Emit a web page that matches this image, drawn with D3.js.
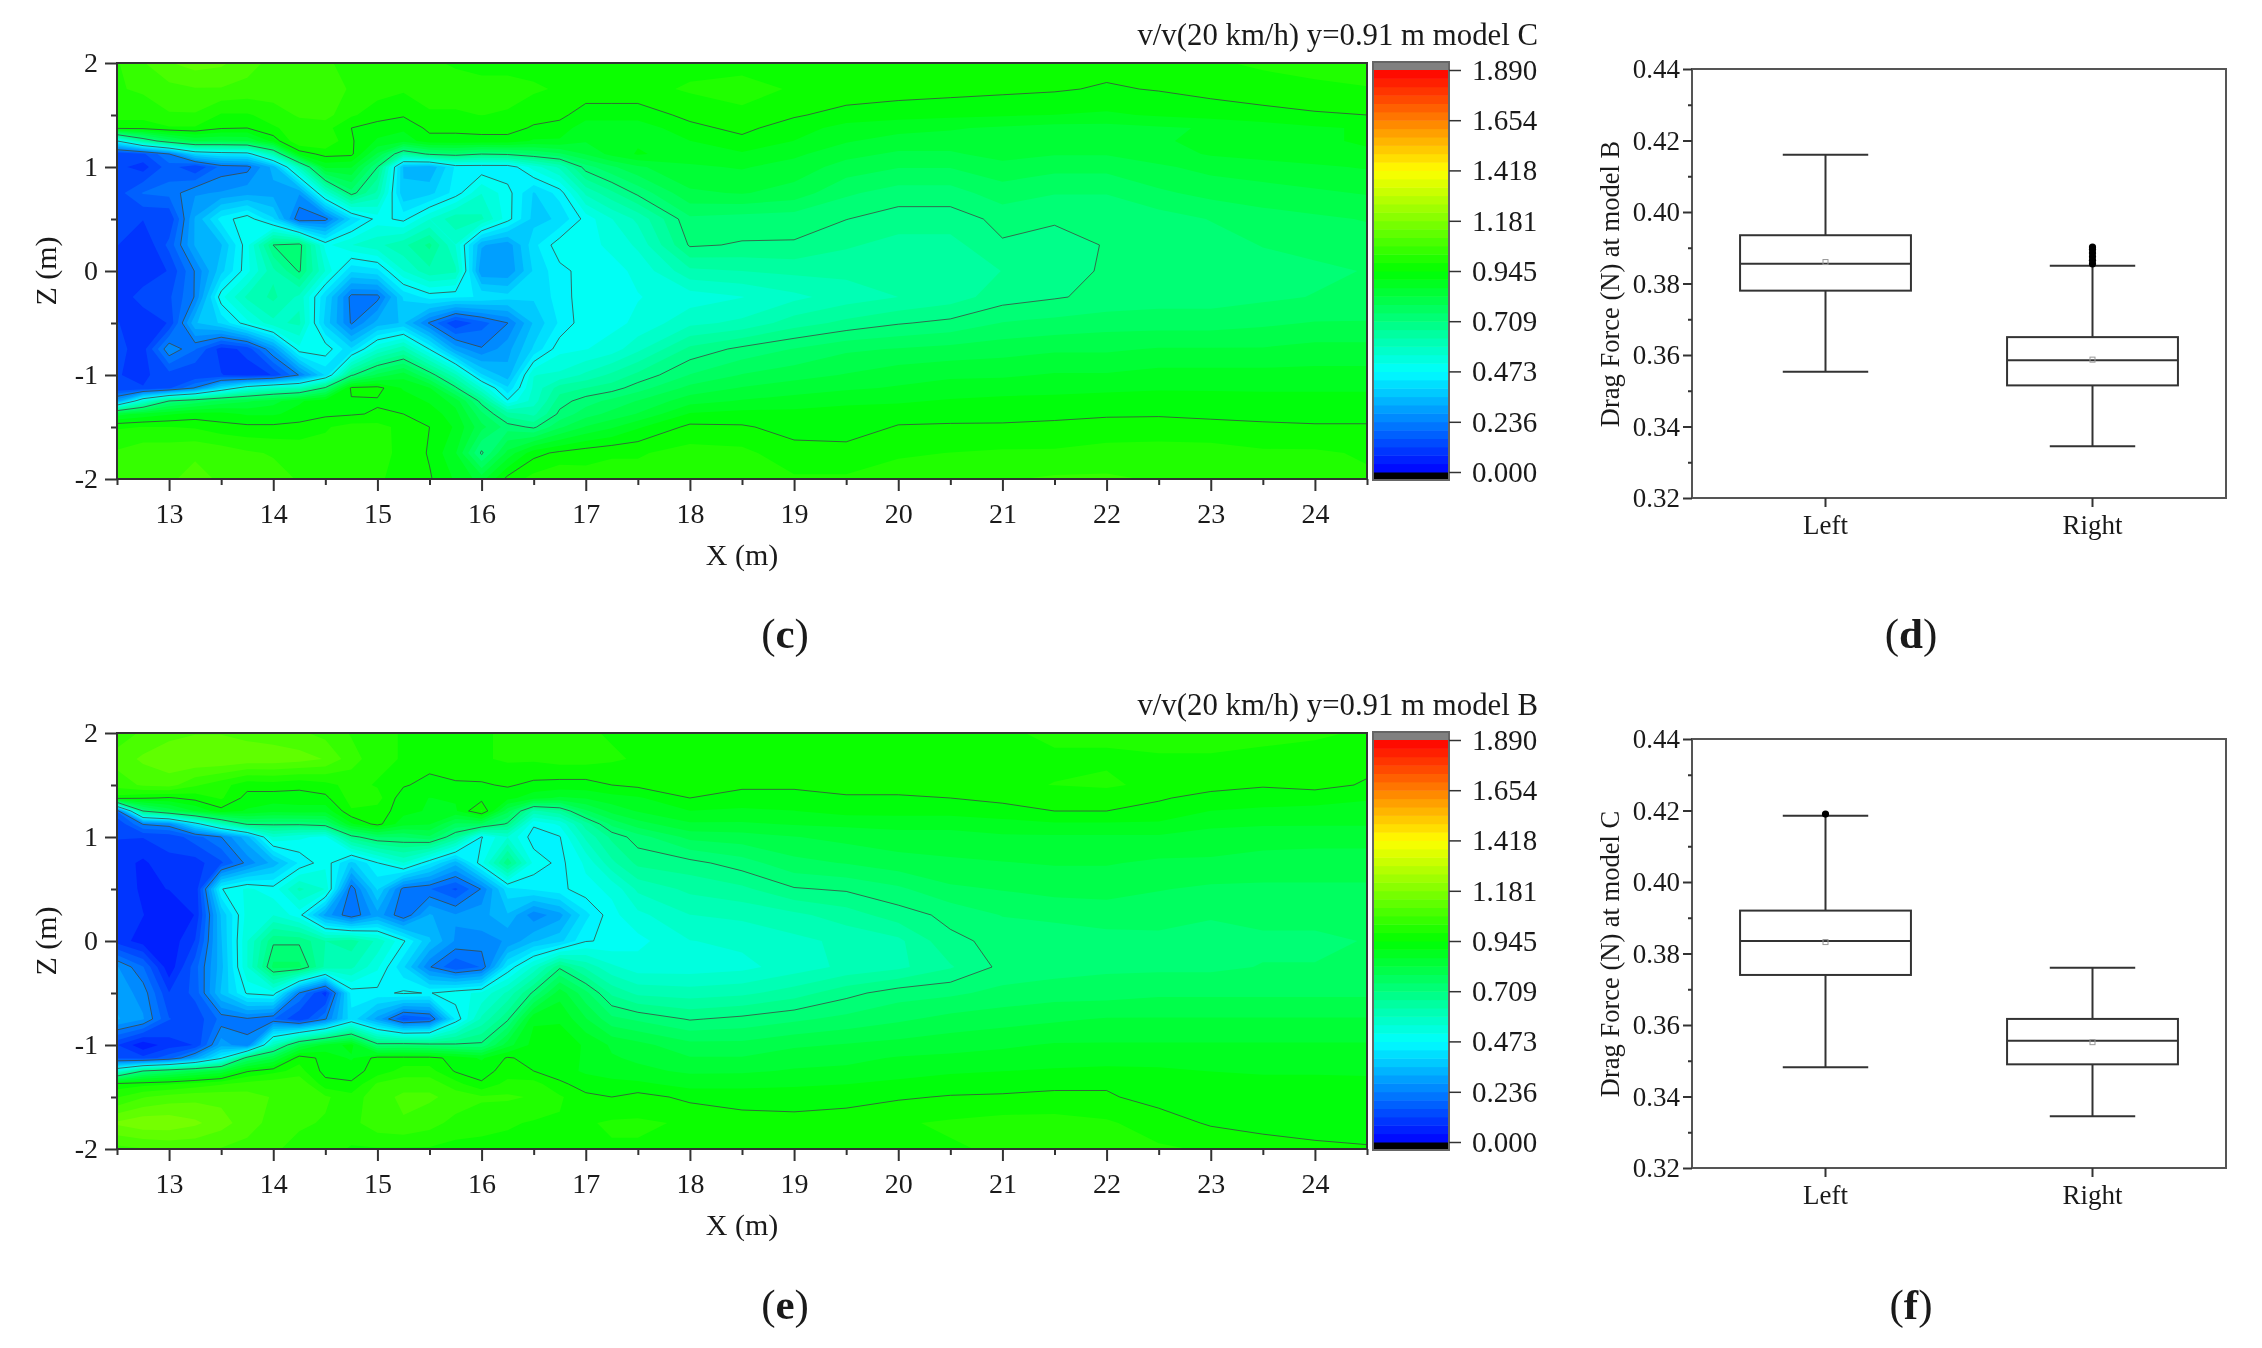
<!DOCTYPE html>
<html>
<head>
<meta charset="utf-8">
<script src="https://d3js.org/d3.v7.min.js"></script>
<style>
  html, body { margin: 0; padding: 0; background: #fff; }
  svg { display: block; filter: blur(0.55px); }
  text { font-family: "Liberation Serif", serif; fill: #1a1a1a; }
  .axis path, .axis line { stroke: #333; }
</style>
</head>
<body>
<script>
// measurement grid, not evenly spaced (finer in the near wake and the shear layers)
var xCols = [12.5,12.75,13,13.25,13.5,13.75,14,14.25,14.5,14.75,15,15.25,15.5,15.75,16,16.25,16.5,16.75,17,17.25,17.5,
  18,18.5,19,19.5,20,20.5,21,21.5,22,22.5,23,23.5,24,24.5];
var zRows = [2,1.75,1.5,1.375,1.25,1.125,1,.75,.5,.25,0,-.25,-.5,-.75,-1,-1.125,-1.25,-1.375,-1.5,-1.75,-2];

// v/v(20 km/h), one line per z row
var velocityModelC = [
  [1.02,1.06,1.10,1.12,1.11,1.08,1.05,1.04,1.03,1.01,1.0,1.0,.99,.98,.97,.97,.97,.97,.97,.97,.97, .97,.97,.97,.96,.96,.96,.96,.96,.96,.97,.98,.99,1.0,1.02],
  [1.02,1.03,1.05,1.06,1.06,1.05,1.05,1.05,1.04,1.02,1.0,.99,1.0,1.0,1.0,1.0,.99,.98,.97,.97,.97, .99,1.0,.98,.97,.965,.96,.955,.95,.94,.948,.96,.97,.975,.98],
  [1.0,1.0,1.02,1.02,.98,.98,1.0,1.03,1.04,.99,.965,.95,.98,.98,.985,.98,.96,.955,.925,.925,.925, .955,.975,.95,.93,.92,.915,.91,.905,.90,.91,.92,.93,.94,.945],
  [.96,.96,.98,.98,.95,.945,.98,1.0,1.0,.945,.925,.915,.955,.955,.96,.96,.94,.93,.88,.88,.88, .935,.955,.925,.89,.88,.87,.86,.85,.85,.86,.87,.885,.90,.91],
  [.47,.65,.76,.83,.82,.83,.92,1.02,1.02,.95,.90,.88,.93,.93,.93,.93,.90,.90,.87,.89,.90, .905,.935,.905,.87,.85,.85,.86,.85,.85,.86,.88,.89,.90,.91],
  [.12,.15,.235,.40,.43,.44,.62,.92,.96,.955,.82,.65,.72,.74,.71,.72,.75,.78,.83,.88,.91, .887,.90,.875,.84,.82,.82,.845,.83,.83,.85,.87,.88,.89,.90],
  [.13,.10,.18,.12,.21,.22,.33,.60,.88,.87,.71,.35,.32,.44,.44,.44,.53,.60,.73,.78,.82, .86,.87,.85,.81,.79,.79,.81,.80,.80,.82,.84,.85,.86,.87],
  [.14,.20,.21,.27,.28,.30,.30,.28,.55,.73,.62,.36,.38,.45,.55,.49,.39,.45,.60,.66,.72, .82,.83,.81,.755,.73,.73,.77,.75,.75,.78,.80,.81,.82,.83],
  [.13,.12,.12,.32,.45,.50,.40,.20,.22,.40,.49,.46,.55,.62,.60,.49,.38,.40,.49,.55,.60, .74,.73,.725,.71,.69,.69,.72,.715,.715,.73,.75,.77,.78,.79],
  [.12,.08,.17,.32,.35,.50,.71,.73,.50,.55,.58,.62,.68,.55,.32,.29,.42,.50,.50,.52,.56, .715,.705,.705,.675,.655,.655,.705,.69,.712,.715,.73,.75,.76,.77],
  [.08,.10,.12,.24,.38,.50,.62,.715,.55,.40,.42,.55,.62,.60,.28,.28,.40,.46,.49,.50,.52, .62,.63,.64,.64,.645,.65,.67,.69,.715,.72,.72,.73,.74,.75],
  [.10,.13,.15,.24,.50,.60,.64,.58,.40,.22,.22,.40,.45,.44,.43,.41,.40,.45,.50,.50,.51, .53,.55,.58,.61,.63,.65,.69,.705,.72,.73,.73,.74,.75,.76],
  [.12,.10,.12,.35,.40,.50,.58,.60,.38,.23,.33,.36,.23,.12,.18,.235,.36,.44,.50,.50,.52, .58,.60,.65,.68,.705,.72,.75,.76,.77,.77,.77,.78,.79,.79],
  [.13,.10,.27,.20,.10,.13,.28,.50,.50,.40,.55,.62,.47,.30,.24,.30,.40,.50,.51,.53,.58, .68,.72,.75,.78,.79,.80,.81,.82,.82,.83,.83,.83,.84,.84],
  [.12,.11,.14,.12,.12,.10,.12,.24,.40,.70,.80,.85,.74,.60,.40,.33,.55,.56,.60,.64,.68, .75,.79,.81,.83,.85,.86,.86,.87,.87,.88,.88,.88,.88,.88],
  [.12,.12,.15,.24,.40,.52,.58,.60,.72,.955,.96,.90,.87,.72,.55,.40,.56,.65,.67,.69,.73, .80,.83,.85,.86,.87,.88,.89,.89,.895,.90,.90,.90,.90,.90],
  [.30,.55,.71,.76,.80,.82,.85,.90,.93,.94,.94,.93,.90,.85,.69,.48,.57,.69,.73,.76,.79, .85,.87,.88,.895,.90,.91,.915,.92,.925,.93,.925,.92,.92,.92],
  [.85,.88,.90,.92,.92,.90,.90,.92,.935,.94,.95,.945,.93,.88,.76,.65,.62,.72,.77,.80,.83, .91,.92,.92,.925,.93,.932,.934,.935,.94,.94,.935,.93,.93,.93],
  [.98,.985,.985,.98,.96,.955,.955,.96,.98,1.0,1.0,.97,.945,.90,.80,.73,.70,.78,.83,.86,.90, .955,.95,.93,.925,.948,.95,.95,.955,.96,.965,.96,.955,.95,.95],
  [1.03,1.05,1.05,1.06,1.05,1.03,1.02,1.01,1.0,1.0,.99,.98,.94,.87,.70,.84,.93,.955,.97,.98,.98, 1.0,.995,.96,.96,.98,.985,.99,.99,1.0,1.0,1.0,.99,.99,.98],
  [1.04,1.05,1.06,1.07,1.06,1.05,1.04,1.02,1.01,1.0,.99,.97,.95,.90,.85,.96,1.0,1.02,1.0,1.0,1.0, 1.01,1.01,.99,.99,1.0,1.0,1.02,1.03,1.03,1.02,1.01,1.0,1.0,.99]
];
var velocityModelB = [
  [1.04,1.07,1.09,1.10,1.10,1.09,1.08,1.07,1.05,1.02,1.0,.98,.97,.98,.98,.99,.99,.99,.99,.98,.97, .97,.97,.98,.98,.98,.98,.98,.99,.99,1.0,1.0,1.0,.99,.98],
  [1.08,1.11,1.13,1.14,1.14,1.13,1.13,1.12,1.10,1.04,1.0,.98,.965,.97,.98,.99,.99,1.0,1.0,.99,.98, .98,.98,.98,.98,.98,.98,.98,.98,.98,.98,.98,.97,.97,.96],
  [1.04,1.07,1.08,1.03,1.0,.96,.965,.955,.97,1.0,.98,.95,.93,.94,.94,.95,.935,.93,.93,.945,.955, .965,.955,.955,.96,.96,.97,.98,.985,.99,.975,.96,.95,.96,.94],
  [.97,.95,.94,.96,.99,.93,.925,.93,.935,1.0,1.0,.92,.905,.91,.93,.92,.88,.86,.87,.89,.90, .945,.925,.925,.94,.94,.945,.955,.96,.965,.95,.93,.92,.92,.91],
  [.20,.71,.80,.87,.93,.90,.88,.885,.88,.98,.97,.92,.90,.90,.99,.80,.62,.66,.78,.84,.87, .905,.90,.905,.92,.92,.92,.93,.945,.945,.93,.905,.90,.895,.89],
  [.12,.24,.26,.44,.60,.72,.72,.72,.74,.90,.96,.88,.87,.78,.78,.70,.48,.52,.65,.76,.81, .86,.86,.87,.875,.88,.88,.89,.90,.90,.90,.875,.87,.87,.87],
  [.12,.12,.13,.18,.235,.34,.55,.52,.50,.69,.75,.75,.78,.67,.47,.55,.45,.47,.60,.68,.73, .80,.81,.825,.84,.85,.85,.86,.86,.86,.86,.85,.845,.84,.84],
  [.10,.07,.11,.10,.15,.25,.33,.44,.50,.38,.47,.55,.44,.33,.50,.70,.50,.46,.52,.62,.68, .695,.73,.775,.79,.81,.82,.825,.83,.83,.82,.82,.81,.81,.81],
  [.11,.07,.08,.08,.47,.52,.49,.60,.55,.21,.40,.22,.20,.15,.24,.42,.44,.46,.50,.52,.60, .64,.66,.705,.715,.74,.78,.79,.80,.80,.79,.78,.78,.78,.78],
  [.12,.08,.05,.08,.36,.53,.55,.49,.30,.20,.30,.20,.32,.28,.30,.35,.25,.30,.42,.50,.54, .59,.60,.62,.65,.69,.72,.75,.76,.77,.76,.75,.76,.76,.76],
  [.10,.06,.05,.12,.35,.55,.70,.70,.63,.65,.58,.48,.36,.27,.26,.28,.35,.38,.47,.48,.50, .55,.56,.58,.60,.62,.70,.72,.72,.73,.74,.74,.74,.74,.75],
  [.28,.20,.05,.18,.34,.55,.76,.76,.62,.60,.52,.40,.24,.16,.20,.44,.56,.70,.62,.56,.53, .53,.54,.57,.60,.62,.665,.72,.73,.74,.74,.74,.75,.75,.76],
  [.30,.26,.12,.17,.36,.48,.50,.235,.10,.45,.46,.48,.47,.50,.52,.60,.72,.85,.76,.66,.62, .61,.62,.65,.695,.73,.74,.76,.77,.77,.78,.78,.78,.78,.78],
  [.32,.28,.16,.13,.21,.23,.20,.12,.23,.42,.30,.15,.18,.44,.60,.70,.90,.90,.83,.76,.74, .705,.72,.74,.76,.78,.80,.81,.82,.83,.83,.83,.83,.83,.83],
  [.12,.05,.10,.12,.30,.24,.60,.80,.88,.92,.73,.74,.73,.72,.72,.85,.92,.93,.90,.86,.84, .80,.80,.82,.83,.84,.85,.86,.87,.87,.87,.87,.87,.87,.87],
  [.15,.13,.18,.30,.46,.74,.82,.97,.93,.90,.96,.96,.96,.93,.90,.95,.93,.925,.90,.87,.86, .83,.83,.85,.855,.87,.875,.88,.89,.89,.895,.89,.885,.89,.885],
  [.55,.71,.76,.80,.84,.94,.97,1.0,.93,.93,.96,1.0,1.0,.94,.93,.96,.945,.92,.90,.885,.875, .86,.86,.87,.875,.89,.90,.905,.91,.915,.91,.905,.90,.90,.90],
  [.96,.97,.98,1.0,1.02,1.04,1.05,1.06,.96,.95,1.03,1.05,1.05,1.0,.95,1.0,1.0,.955,.925,.92,.915, .89,.895,.90,.905,.915,.925,.93,.935,.94,.935,.925,.92,.92,.915],
  [1.02,1.06,1.08,1.09,1.09,1.08,1.06,1.05,1.03,1.0,1.05,1.07,1.07,1.05,1.03,1.03,1.02,.99,.955,.945,.96, .935,.925,.925,.93,.94,.948,.95,.955,.95,.93,.93,.925,.925,.925],
  [1.15,1.17,1.17,1.15,1.12,1.08,1.05,1.03,1.02,1.01,1.05,1.06,1.04,1.01,1.0,.99,.98,.98,.98,.99,.99, .98,.965,.96,.965,.98,.99,1.0,1.0,.99,.965,.94,.93,.925,.92],
  [1.05,1.06,1.07,1.07,1.06,1.05,1.03,1.01,1.0,.98,.98,.98,.98,.97,.97,.97,.97,.97,.98,.98,.98, .98,.98,.97,.97,.98,.98,.99,1.0,1.0,.99,.98,.965,.955,.95]
];

// colour legend
var legendTicks = [0, .236, .473, .709, .945, 1.181, 1.418, 1.654, 1.89];
var legendLabels = ["0.000","0.236","0.473","0.709","0.945","1.181","1.418","1.654","1.890"];
var contourLines = [.236, .473, .709, .945];

// box plots
var sides = ["Left", "Right"];
var boxModelB = [
  {low: .3553, q1: .378, median: .3855, mean: .386, q3: .3935, high: .416},
  {low: .3345, q1: .3515, median: .3585, mean: .3587, q3: .365, high: .385}
];
var boxModelC = [
  {low: .3482, q1: .374, median: .3835, mean: .3832, q3: .392, high: .4185},
  {low: .3345, q1: .349, median: .3556, mean: .3552, q3: .3617, high: .376}
];
var outliersModelB = [[], [.3855,.3865,.3875,.3885,.3895,.3902]];
var outliersModelC = [[.419], []];

var width = 2262, height = 1348;
var svg = d3.select("body").append("svg").attr("width", width).attr("height", height);

var vMax = 1.89, nBands = 48, step = vMax / nBands;
var bandStarts = d3.range(nBands).map(function(i) { return i * step; });
var rainbow = d3.scaleLinear()
  .domain([0, .473, .945, 1.418, 1.89])
  .range(["#0000ff", "#00ffff", "#00ff00", "#ffff00", "#ff0000"]);
function bandColor(t) { return rainbow(t + step / 2); }

var xIndex = d3.scaleLinear().domain(d3.range(xCols.length)).range(xCols);
var zIndex = d3.scaleLinear().domain(d3.range(zRows.length)).range(zRows);

function contourPanel(top, rows, title, clipId) {
  var left = 117, right = 1367, bottom = top + 416;
  var x = d3.scaleLinear().domain([12.5, 24.5]).range([left, right]);
  var z = d3.scaleLinear().domain([-2, 2]).range([bottom, top]);
  var g = svg.append("g");

  g.append("clipPath").attr("id", clipId).append("rect")
    .attr("x", left).attr("y", top).attr("width", right - left).attr("height", bottom - top);

  var values = rows.flat();
  var contours = d3.contours().size([xCols.length, zRows.length]);
  // d3.contours puts value i at i + 0.5
  var path = d3.geoPath(d3.geoTransform({
    point: function(px, py) {
      this.stream.point(x(xIndex(px - .5)), z(zIndex(py - .5)));
    }
  }));

  var plot = g.append("g").attr("clip-path", "url(#" + clipId + ")");
  plot.append("rect")
    .attr("x", left).attr("y", top).attr("width", right - left).attr("height", bottom - top)
    .attr("fill", bandColor(0));
  plot.selectAll(".band")
    .data(contours.thresholds(bandStarts)(values))
    .enter().append("path")
    .attr("class", "band")
    .attr("d", path)
    .attr("fill", function(d) { return bandColor(d.value); });
  plot.selectAll(".level")
    .data(contours.thresholds(contourLines)(values))
    .enter().append("path")
    .attr("class", "level")
    .attr("d", path)
    .attr("fill", "none")
    .attr("stroke", "#3c4a44")
    .attr("stroke-opacity", .8)
    .attr("stroke-width", 1)
    .attr("stroke-linejoin", "round");

  // frame
  g.append("rect")
    .attr("x", left).attr("y", top).attr("width", right - left).attr("height", bottom - top)
    .attr("fill", "none").attr("stroke", "#333").attr("stroke-width", 2);

  // axes
  var axisX = d3.axisBottom(x).tickValues(d3.range(13, 25)).tickSize(12).tickPadding(12).tickFormat(d3.format("d"));
  var axisXMinor = d3.axisBottom(x).tickValues(d3.range(12.5, 25, 1)).tickSize(6).tickFormat("");
  var axisZ = d3.axisLeft(z).tickValues(d3.range(-2, 3)).tickSize(12).tickPadding(7).tickFormat(function(d) { return String(d); });
  var axisZMinor = d3.axisLeft(z).tickValues(d3.range(-1.5, 2, 1)).tickSize(6).tickFormat("");
  [[axisX, "translate(0," + bottom + ")"], [axisXMinor, "translate(0," + bottom + ")"],
   [axisZ, "translate(" + left + ",0)"], [axisZMinor, "translate(" + left + ",0)"]].forEach(function(a) {
    var ax = g.append("g").attr("class", "axis").attr("transform", a[1]).call(a[0]);
    ax.select(".domain").remove();
    ax.selectAll("line").attr("stroke-width", 2);
    ax.selectAll("text").attr("font-size", 28).attr("font-family", null);
  });

  g.append("text").attr("x", (left + right) / 2).attr("y", bottom + 86)
    .attr("text-anchor", "middle").attr("font-size", 30).text("X (m)");
  g.append("text").attr("transform", "translate(56," + (top + 208) + ") rotate(-90)")
    .attr("text-anchor", "middle").attr("font-size", 30).text("Z (m)");
  g.append("text").attr("x", 1538).attr("y", top - 18)
    .attr("text-anchor", "end").attr("font-size", 30.8).text(title);

  // colour legend
  var barLeft = 1373, barRight = 1449;
  var v = d3.scaleLinear().domain([0, vMax]).range([top + 409, top + 7]);
  g.append("rect").attr("x", barLeft).attr("y", top - 1).attr("width", barRight - barLeft).attr("height", 8).attr("fill", "#808080");
  g.append("rect").attr("x", barLeft).attr("y", top + 409).attr("width", barRight - barLeft).attr("height", 8).attr("fill", "#000");
  g.selectAll(".legend-band")
    .data(bandStarts)
    .enter().append("rect")
    .attr("class", "legend-band")
    .attr("x", barLeft)
    .attr("width", barRight - barLeft)
    .attr("y", function(d) { return v(d + step); })
    .attr("height", function(d) { return v(d) - v(d + step) + .5; })
    .attr("fill", bandColor);
  g.append("rect").attr("x", barLeft).attr("y", top - 1).attr("width", barRight - barLeft).attr("height", 418)
    .attr("fill", "none").attr("stroke", "#666").attr("stroke-width", 2);
  var axisV = d3.axisRight(v).tickValues(legendTicks).tickSize(12).tickPadding(11)
    .tickFormat(function(d, i) { return legendLabels[i]; });
  var ax = g.append("g").attr("class", "axis").attr("transform", "translate(" + barRight + ",0)").call(axisV);
  ax.select(".domain").remove();
  ax.selectAll("line").attr("stroke", "#555").attr("stroke-width", 1.5);
  ax.selectAll("text").attr("font-size", 29).attr("font-family", null);
}

function boxPanel(top, stats, outliers, label) {
  var left = 1692, right = 2226, bottom = top + 429;
  var x = d3.scaleBand().domain(sides).range([left, right]);
  var y = d3.scaleLinear().domain([.32, .44]).range([bottom, top]);
  var g = svg.append("g");
  var boxW = x.bandwidth() * .64, capW = x.bandwidth() * .32;
  var cx = function(i) { return x(sides[i]) + x.bandwidth() / 2; };
  var lineCol = "#333";

  g.append("rect").attr("x", left).attr("y", top).attr("width", right - left).attr("height", bottom - top)
    .attr("fill", "none").attr("stroke", "#555").attr("stroke-width", 2);

  var boxes = g.selectAll(".box").data(stats).enter().append("g").attr("class", "box");
  function seg(sel, x1, x2, y1, y2) {
    sel.append("line").attr("x1", x1).attr("x2", x2).attr("y1", y1).attr("y2", y2)
      .attr("stroke", lineCol).attr("stroke-width", 2);
  }
  boxes.each(function(d, i) {
    var b = d3.select(this), c = cx(i);
    seg(b, c, c, y(d.high), y(d.q3));
    seg(b, c, c, y(d.q1), y(d.low));
    seg(b, c - capW / 2, c + capW / 2, y(d.high), y(d.high));
    seg(b, c - capW / 2, c + capW / 2, y(d.low), y(d.low));
    b.append("rect").attr("x", c - boxW / 2).attr("y", y(d.q3)).attr("width", boxW).attr("height", y(d.q1) - y(d.q3))
      .attr("fill", "none").attr("stroke", lineCol).attr("stroke-width", 2);
    seg(b, c - boxW / 2, c + boxW / 2, y(d.median), y(d.median));
    b.append("rect").attr("x", c - 2.5).attr("y", y(d.mean) - 2.5).attr("width", 5).attr("height", 5)
      .attr("fill", "none").attr("stroke", "#999").attr("stroke-width", 1);
    b.selectAll("circle").data(outliers[i]).enter().append("circle")
      .attr("cx", c).attr("cy", function(o) { return y(o); }).attr("r", 3.6).attr("fill", "#000");
  });

  var axisY = d3.axisLeft(y).tickValues([.32,.34,.36,.38,.40,.42,.44]).tickSize(9).tickPadding(3).tickFormat(d3.format(".2f"));
  var axisYMinor = d3.axisLeft(y).tickValues([.33,.35,.37,.39,.41,.43]).tickSize(4).tickFormat("");
  var axisB = d3.axisBottom(x).tickSize(9).tickPadding(8);
  [[axisY, "translate(" + left + ",0)"], [axisYMinor, "translate(" + left + ",0)"],
   [axisB, "translate(0," + bottom + ")"]].forEach(function(a) {
    var ax = g.append("g").attr("class", "axis").attr("transform", a[1]).call(a[0]);
    ax.select(".domain").remove();
    ax.selectAll("line").attr("stroke-width", 2);
    ax.selectAll("text").attr("font-size", 27).attr("font-family", null);
  });
  g.append("text").attr("transform", "translate(1619," + (top + 215) + ") rotate(-90)")
    .attr("text-anchor", "middle").attr("font-size", 26.5).text(label);
}

function caption(cx, cy, letter) {
  var t = svg.append("text").attr("x", cx).attr("y", cy).attr("text-anchor", "middle").attr("font-size", 43);
  t.append("tspan").text("(");
  t.append("tspan").attr("font-weight", "bold").text(letter);
  t.append("tspan").text(")");
}

contourPanel(63, velocityModelC, "v/v(20 km/h) y=0.91 m model C", "clipC");
contourPanel(733, velocityModelB, "v/v(20 km/h) y=0.91 m model B", "clipB");
boxPanel(69, boxModelB, outliersModelB, "Drag Force (N) at model B");
boxPanel(739, boxModelC, outliersModelC, "Drag Force (N) at model C");
caption(785, 648, "c");
caption(1911, 648, "d");
caption(785, 1319, "e");
caption(1911, 1319, "f");
</script>
</body>
</html>
